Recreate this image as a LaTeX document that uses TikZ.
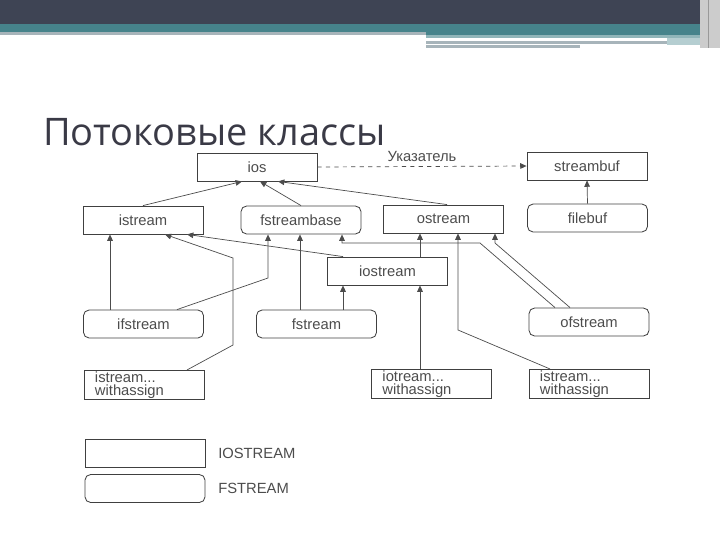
\documentclass[tikz,border=0pt]{standalone}
\usepackage{fontspec}
\setmainfont{Liberation Sans}
\newfontfamily\titlefont{Open Sans}
\usetikzlibrary{arrows.meta}
\definecolor{bardark}{HTML}{3E4454}
\definecolor{barteal}{HTML}{46838B}
\definecolor{barline}{HTML}{A7B4BA}
\definecolor{titlegray}{HTML}{3A3A46}

\begin{document}
\begin{tikzpicture}[x=0.025cm, y=-0.025cm,
	cls/.style={draw=black!75, line width=0.6pt, minimum width=3cm, minimum height=0.7cm, inner sep=1pt, text=black!70, font=\fontsize{10.5}{11}\selectfont},
	rcls/.style={cls, rounded corners=4pt},
	wcls/.style={cls, text width=2.45cm, align=left, font=\fontsize{10.5}{9}\selectfont},
	lbl/.style={inner sep=0pt, text=black!70, font=\fontsize{10.5}{11}\selectfont},
	conn/.style={draw=black!70, line width=0.5pt, -{Triangle[length=4.5pt, width=4pt]}}]
	\useasboundingbox (0,0) rectangle (720,540);
	% top bar
	\fill[bardark] (0,0) rectangle (720,24);
	\fill[barteal] (0,24) rectangle (720,32);
	\fill[barline] (0,32) rectangle (426,35);
	\fill[barteal] (426,32) rectangle (700,35);
	\fill[barteal!60] (426,35) rectangle (700,38);
	\fill[barline] (426,41) rectangle (667,44);
	\fill[barline] (426,45) rectangle (580,48);
	\fill[barteal!40] (667,38) rectangle (700,45);
	\fill[black!20] (700,0) rectangle (720,48);
	\draw[black!40] (708,0) -- (708,48);
	\node[inner sep=0pt, anchor=base west, text=titlegray, font=\titlefont\fontsize{27}{32}\selectfont] (title) at (43,145) {Потоковые классы};

	\node[cls] (ios) at (257,167) {ios};
	\node[cls] (sbuf) at (587,166) {streambuf};
	\node[cls] (istream) at (143,220) {istream};
	\node[rcls] (fsbase) at (301,220) {fstreambase};
	\node[cls] (ostream) at (443.5,219) {ostream};
	\node[rcls] (filebuf) at (587.5,218) {filebuf};
	\node[cls] (iostream) at (387.5,271) {iostream};
	\node[rcls] (ifstream) at (143.5,324) {ifstream};
	\node[rcls] (fstream) at (316.5,324) {fstream};
	\node[rcls] (ofstream) at (589,322) {ofstream};
	\node[wcls] (iswa) at (144,385) {istream...\\withassign};
	\node[wcls] (iowa) at (431.5,384) {iotream...\\withassign};
	\node[wcls] (oswa) at (589,384) {istream...\\withassign};

	\draw[conn, dashed] (ios.east) -- (sbuf.west) node[lbl, midway, above=3pt] (ptr) {Указатель};
	\draw[conn] (istream.north) -- (ios.south -| 242,0);
	\draw[conn] (fsbase.north) -- (ios.south -| 260,0);
	\draw[conn] (ostream.north -| 447,0) -- (ios.south -| 278,0);
	\draw[conn] (filebuf.north) -- (sbuf.south);
	\draw[conn] (ifstream.north -| 110,0) -- (istream.south -| 110,0);
	\draw[conn] (iswa.north -| 187,0) -- (233,345) -- (233,258) -- (istream.south -| 165,0);
	\draw[conn] (iostream.north -| 343,0) -- (istream.south -| 187,0);
	\draw[conn] (ifstream.north -| 177,0) -- (268,278) -- (fsbase.south -| 268,0);
	\draw[conn] (fstream.north -| 300,0) -- (fsbase.south -| 300,0);
	\draw[conn] (fstream.north -| 343,0) -- (iostream.south -| 343,0);
	\draw[conn] (ofstream.north -| 555,0) -- (480,243) -- (342,243) -- (fsbase.south -| 342,0);
	\draw[conn] (ofstream.north -| 570,0) -- (495,243) -- (ostream.south -| 495,0);
	\draw[conn] (iostream.north -| 420,0) -- (ostream.south -| 420,0);
	\draw[conn] (oswa.north -| 550,0) -- (458,330) -- (ostream.south -| 458,0);
	\draw[conn] (iowa.north -| 420,0) -- (iostream.south -| 420,0);

	% legend
	\node[cls] (lgbox) at (145,453.5) {};
	\node[rcls] (lgrbox) at (145,488.5) {};
	\node[lbl, anchor=west] (lgtxt) at (218,453) {IOSTREAM};
	\node[lbl, anchor=west] (lgrtxt) at (218,488) {FSTREAM};
\end{tikzpicture}
\end{document}
